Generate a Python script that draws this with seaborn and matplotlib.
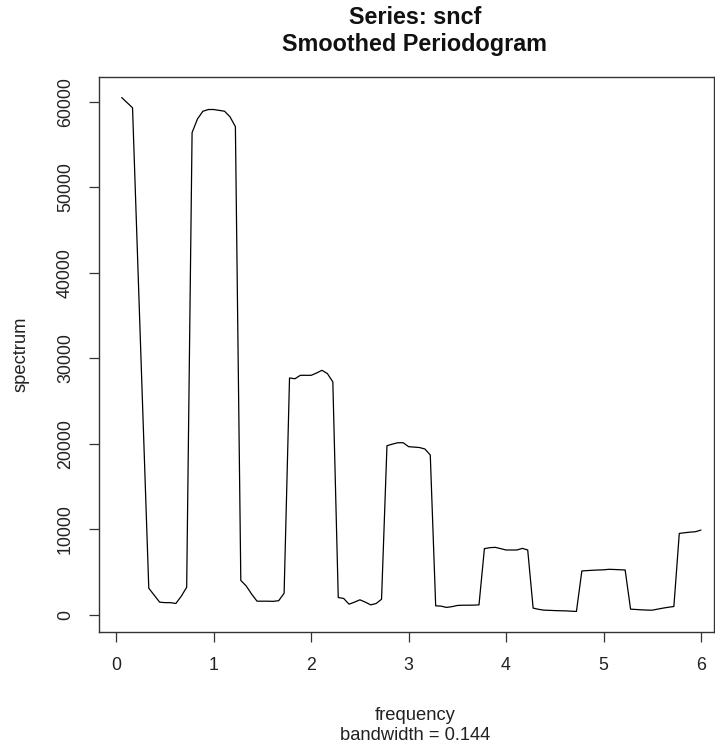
import numpy as np
import pandas as pd
import matplotlib
matplotlib.use("Agg")
import matplotlib.pyplot as plt
import seaborn as sns

# Fourier frequencies of a monthly series of 18 years (k/18, k = 1..108)
frequency = np.arange(1, 109) / 18.0

spectrum = [
    60500, 59900, 59300, 40500, 21800, 3090, 2270, 1460, 1400, 1400,
    1300, 2150, 3200, 56400, 58000, 58900, 59100, 59100, 59000, 58900,
    58250, 57100, 4000, 3350, 2400, 1570, 1570, 1570, 1550, 1630,
    2500, 27690, 27600, 28000, 28000, 28000, 28270, 28590, 28200, 27230,
    2000, 1890, 1220, 1460, 1730, 1460, 1140, 1300, 1800, 19760,
    19950, 20110, 20110, 19650, 19600, 19550, 19380, 18680, 1030, 990,
    840, 930, 1070, 1100, 1100, 1110, 1140, 7720, 7830, 7870,
    7720, 7560, 7560, 7560, 7750, 7560, 760, 620, 520, 500,
    470, 450, 440, 400, 370, 5110, 5150, 5190, 5220, 5240,
    5300, 5280, 5250, 5220, 640, 600, 560, 530, 520, 640,
    760, 860, 950, 9500, 9580, 9650, 9700, 9890,
]

x_ticks = [0, 1, 2, 3, 4, 5, 6]
y_ticks = [0, 10000, 20000, 30000, 40000, 50000, 60000]

title_lines = ["Series: sncf", "Smoothed Periodogram"]
x_label_lines = ["frequency", "bandwidth = 0.144"]
y_label = "spectrum"

df = pd.DataFrame({"frequency": frequency, "spectrum": spectrum})

sns.set_style("ticks")
plt.rcParams["font.family"] = ["Liberation Sans", "DejaVu Sans"]

W, H = 715, 749
fig = plt.figure(figsize=(W / 100, H / 100), dpi=100)
left, right, top, bottom = 99, 714, 77, 632
ax = fig.add_axes([left / W, 1 - bottom / H, (right - left) / W, (bottom - top) / H])

sns.lineplot(data=df, x="frequency", y="spectrum", ax=ax, color="black",
             linewidth=0.9, estimator=None, sort=False)

ax.set_xlim(-0.1775, 6.134)
ax.set_ylim(-2035, 62905)
ax.set_xticks(x_ticks)
ax.set_xticklabels([str(v) for v in x_ticks])
ax.set_yticks(y_ticks)
ax.set_yticklabels([str(v) for v in y_ticks], rotation=90, va="center")

for s in ax.spines.values():
    s.set_visible(True)
    s.set_color("#333333")
    s.set_linewidth(1.0)

ax.tick_params(axis="both", direction="out", length=7, width=0.9,
               color="#333333", labelsize=12.8, labelcolor="#222222", pad=11)

ax.set_xlabel("")
ax.set_ylabel(y_label, fontsize=13.2, color="#222222", labelpad=20)

cx = 415 / W
fig.text(cx, 1 - 716 / H, x_label_lines[0], ha="center", va="center",
         fontsize=13.2, color="#222222")
fig.text(cx, 1 - 736 / H, x_label_lines[1], ha="center", va="center",
         fontsize=13.2, color="#222222")

fig.text(cx, 1 - 18 / H, title_lines[0], ha="center", va="center",
         fontsize=16.8, fontweight="bold", color="#111111")
fig.text(cx, 1 - 45 / H, title_lines[1], ha="center", va="center",
         fontsize=16.8, fontweight="bold", color="#111111")

fig.savefig("out.png", dpi=100, facecolor="white")
